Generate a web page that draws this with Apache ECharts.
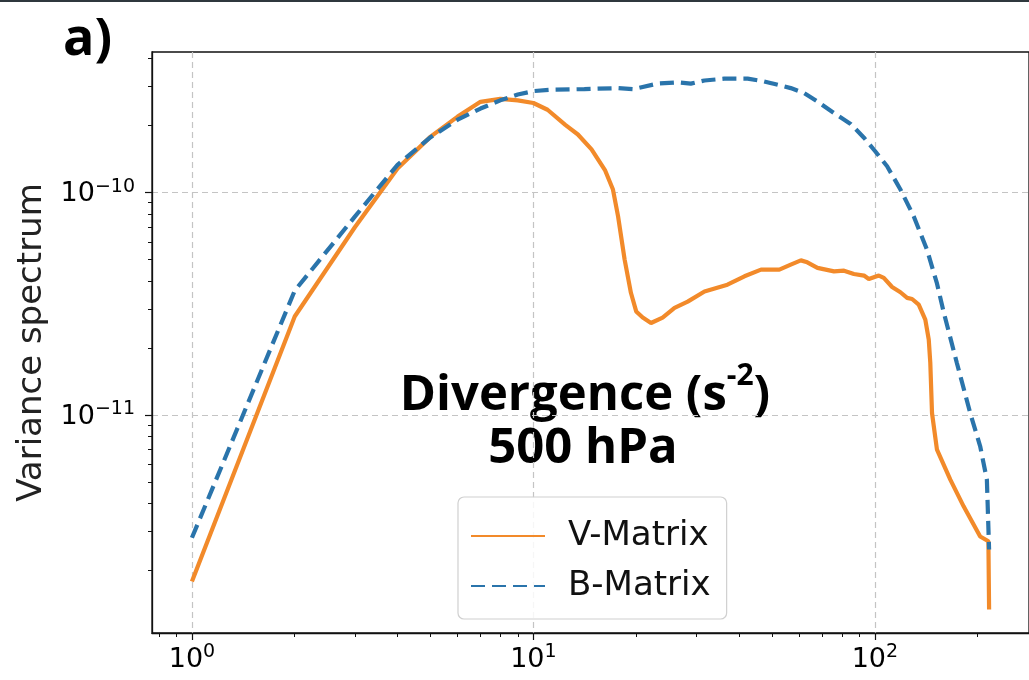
<!DOCTYPE html>
<html>
<head>
<meta charset="utf-8">
<style>
  html, body { margin: 0; padding: 0; background: #ffffff; }
  #chart { width: 1029px; height: 680px; }
</style>
<script src="https://cdn.jsdelivr.net/npm/echarts@6/dist/echarts.min.js"></script>
</head>
<body>
<div id="chart"></div>
<script>
// Total wavenumber n for each spectrum
const vWavenumber = [1, 2, 3, 4, 5, 6, 7, 8, 9, 10, 11, 12.4, 13.5, 14.8, 16.2, 17.1, 17.7, 18.5, 19.3, 20,
  20.9, 22.1, 23.9, 25.9, 28.3, 31.7, 37, 41.5, 46.4, 52.5, 56.7, 60.7, 63.4, 67.9, 75.9, 81.2, 86.8,
  92.9, 96, 102.7, 106.2, 112.3, 118.8, 124.3, 128.5, 134.4, 140.5, 143.8, 145.3, 147, 152, 166.3,
  181.9, 203.4, 215, 216];
// Variance spectrum of divergence (s^-2), V-Matrix
const vVariance = [1.79e-12, 2.77e-11, 6.97e-11, 1.28e-10, 1.78e-10, 2.19e-10, 2.55e-10, 2.63e-10, 2.59e-10,
  2.52e-10, 2.35e-10, 2.01e-10, 1.82e-10, 1.56e-10, 1.26e-10, 1.03e-10, 7.8e-11, 4.99e-11, 3.54e-11,
  2.92e-11, 2.74e-11, 2.59e-11, 2.74e-11, 3.03e-11, 3.23e-11, 3.59e-11, 3.85e-11, 4.2e-11, 4.5e-11,
  4.5e-11, 4.74e-11, 4.95e-11, 4.85e-11, 4.58e-11, 4.42e-11, 4.45e-11, 4.3e-11, 4.23e-11, 4.08e-11,
  4.23e-11, 4.13e-11, 3.76e-11, 3.56e-11, 3.36e-11, 3.32e-11, 3.13e-11, 2.68e-11, 2.18e-11, 1.72e-11,
  1.02e-11, 6.99e-12, 5.13e-12, 3.89e-12, 2.85e-12, 2.71e-12, 1.34e-12];

const bWavenumber = [1, 2, 3, 4, 5, 6, 7, 8, 9, 10, 11.3, 14.1, 17.7, 19.6, 23.1, 26.5, 28.9, 31.7, 36.2,
  42.4, 47.4, 56.7, 62.1, 67.9, 77.6, 84.9, 92.9, 100.2, 108.6, 118.8, 130, 142.1, 152, 159, 173.9,
  190.2, 203.4, 212.8, 216];
// Variance spectrum of divergence (s^-2), B-Matrix
const bVariance = [2.81e-12, 3.62e-11, 7.78e-11, 1.33e-10, 1.77e-10, 2.12e-10, 2.38e-10, 2.59e-10, 2.75e-10,
  2.85e-10, 2.89e-10, 2.91e-10, 2.94e-10, 2.91e-10, 3.08e-10, 3.12e-10, 3.08e-10, 3.18e-10, 3.24e-10,
  3.24e-10, 3.15e-10, 2.94e-10, 2.79e-10, 2.56e-10, 2.22e-10, 2.03e-10, 1.76e-10, 1.53e-10, 1.31e-10,
  1.03e-10, 7.8e-11, 5.53e-11, 3.9e-11, 2.9e-11, 1.71e-11, 1.02e-11, 7.24e-12, 5.13e-12, 2.49e-12];

const seriesNames = ['V-Matrix', 'B-Matrix'];

// Axis ticks
const xMajorTicks = [1, 10, 100];
const xMinorTicks = [0.8, 0.9, 2, 3, 4, 5, 6, 7, 8, 9, 20, 30, 40, 50, 60, 70, 80, 90, 200];
const yMajorTicks = [1e-11, 1e-10];
const yMinorTicks = [2e-12, 3e-12, 4e-12, 5e-12, 6e-12, 7e-12, 8e-12, 9e-12,
  2e-11, 3e-11, 4e-11, 5e-11, 6e-11, 7e-11, 8e-11, 9e-11, 2e-10, 3e-10, 4e-10];
const xRange = [0.764, 282.7];
const yRange = [1.05e-12, 4.27e-10];

const zip = (xs, ys) => xs.map((x, i) => [x, ys[i]]);

const tickFont = 'DejaVu Sans';
const powerLabel = (v) => {
  const e = Math.round(Math.log10(v));
  return '{b|10}{s|' + String(e).replace('-', '\u2212') + '}';
};
const powerRich = {
  b: { fontFamily: tickFont, fontSize: 27, color: '#000', lineHeight: 30, verticalAlign: 'bottom' },
  s: { fontFamily: tickFont, fontSize: 19, color: '#000', lineHeight: 19, verticalAlign: 'top' }
};

const orange = '#f28a2a';
const blue = '#2a74ab';

const chart = echarts.init(document.getElementById('chart'), null, { renderer: 'canvas' });

const gridLine = { show: true, lineStyle: { color: '#c4c4c4', width: 1.2, type: [6, 4] } };

chart.setOption({
  backgroundColor: '#ffffff',
  animation: false,
  grid: {
    left: 152, top: 52, width: 880, height: 581,
    show: true, borderColor: '#111', borderWidth: 1.3, backgroundColor: 'transparent'
  },
  xAxis: [
    {
      type: 'log', logBase: 10, min: xRange[0], max: xRange[1],
      axisLine: { show: true, lineStyle: { color: '#111', width: 1.3 } },
      axisTick: { show: true, customValues: xMajorTicks, length: 7, lineStyle: { color: '#111', width: 1.2 } },
      axisLabel: {
        customValues: xMajorTicks, margin: 10, formatter: powerLabel, rich: powerRich
      },
      splitLine: gridLine
    },
    {
      type: 'log', logBase: 10, min: xRange[0], max: xRange[1], position: 'bottom',
      axisLine: { show: false },
      axisTick: { show: true, customValues: xMinorTicks, length: 4, lineStyle: { color: '#111', width: 1 } },
      axisLabel: { show: false },
      splitLine: { show: false }
    }
  ],
  yAxis: [
    {
      type: 'log', logBase: 10, min: yRange[0], max: yRange[1],
      name: 'Variance spectrum', nameLocation: 'middle', nameGap: 102, nameRotate: 90,
      nameTextStyle: { fontFamily: 'DejaVu Sans', fontSize: 34, color: '#222' },
      axisLine: { show: true, lineStyle: { color: '#111', width: 1.3 } },
      axisTick: { show: true, customValues: yMajorTicks, length: 7, lineStyle: { color: '#111', width: 1.2 } },
      axisLabel: {
        customValues: yMajorTicks, margin: 17, formatter: powerLabel, rich: powerRich
      },
      splitLine: gridLine
    },
    {
      type: 'log', logBase: 10, min: yRange[0], max: yRange[1], position: 'left',
      axisLine: { show: false },
      axisTick: { show: true, customValues: yMinorTicks, length: 4, lineStyle: { color: '#111', width: 1 } },
      axisLabel: { show: false },
      splitLine: { show: false }
    }
  ],
  legend: {
    orient: 'vertical',
    left: 458, top: 497,
    padding: [22, 16, 16, 12],
    itemGap: 16,
    itemWidth: 74, itemHeight: 4,
    backgroundColor: 'rgba(255,255,255,0.85)',
    borderColor: '#d0d0d0', borderWidth: 1.2, borderRadius: 6,
    itemStyle: { opacity: 0, borderWidth: 0 },
    textStyle: { fontFamily: 'DejaVu Sans', fontSize: 34, color: '#111', padding: [0, 0, 0, 18] },
    data: seriesNames
  },
  graphic: [
    { type: 'rect', shape: { x: 0, y: 0, width: 1029, height: 2 }, style: { fill: '#2f383d' } },
    {
      type: 'text', left: 63, top: 14,
      style: { text: 'a)', font: 'bold 52px "Open Sans"', fill: '#000' }
    },
    {
      type: 'text', x: 585, y: 361,
      style: {
        text: '{t|Divergence (s}{s|-2}{t|)}',
        align: 'center', verticalAlign: 'top',
        rich: {
          t: { font: 'bold 49px "Open Sans"', fill: '#000', lineHeight: 60, verticalAlign: 'bottom' },
          s: { font: 'bold 30px "Open Sans"', fill: '#000', lineHeight: 42, verticalAlign: 'top' }
        }
      }
    },
    {
      type: 'text', x: 583, y: 425,
      style: { text: '500 hPa', align: 'center', verticalAlign: 'top', font: 'bold 49px "Open Sans"', fill: '#000' }
    }
  ],
  series: [
    {
      name: seriesNames[0], type: 'line', xAxisIndex: 0, yAxisIndex: 0,
      data: zip(vWavenumber, vVariance),
      showSymbol: false, symbol: 'none',
      lineStyle: { color: orange, width: 4.2 },
      itemStyle: { color: orange },
      z: 3
    },
    {
      name: seriesNames[1], type: 'line', xAxisIndex: 0, yAxisIndex: 0,
      data: zip(bWavenumber, bVariance),
      showSymbol: false, symbol: 'none',
      lineStyle: { color: blue, width: 4.2, type: [14, 7] },
      itemStyle: { color: blue },
      z: 4
    }
  ]
});
</script>
</body>
</html>
